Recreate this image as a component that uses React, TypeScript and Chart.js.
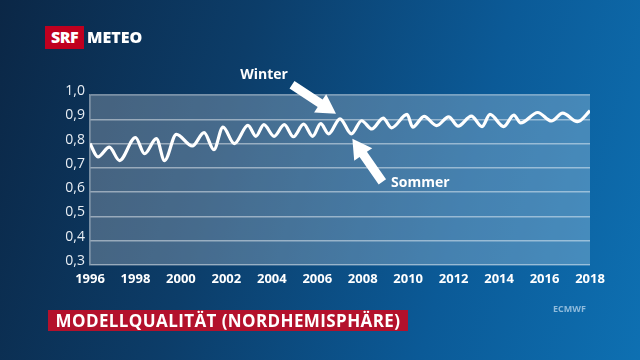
import React, { useEffect, useRef } from "react";
import { Chart, registerables } from "chart.js";

Chart.register(...registerables);

// Decimal years of the seasonal peaks/troughs and the model quality score
const times = [
  1996.0, 1996.35, 1996.85, 1997.3, 1998.0, 1998.4, 1998.92, 1999.28, 1999.8, 2000.5,
  2001.02, 2001.45, 2001.85, 2002.35, 2002.95, 2003.3, 2003.65, 2004.1, 2004.55, 2004.95,
  2005.4, 2005.8, 2006.15, 2006.5, 2007.0, 2007.5, 2007.95, 2008.4, 2008.9, 2009.27,
  2009.95, 2010.2, 2010.7, 2011.25, 2011.78, 2012.2, 2012.78, 2013.25, 2013.6, 2014.2,
  2014.65, 2014.95, 2015.7, 2016.3, 2016.8, 2017.45, 2018.0,
];
const scores = [
  0.8, 0.745, 0.785, 0.73, 0.825, 0.758, 0.82, 0.73, 0.838, 0.79,
  0.845, 0.775, 0.868, 0.8, 0.875, 0.83, 0.878, 0.83, 0.878, 0.828,
  0.88, 0.83, 0.882, 0.84, 0.902, 0.84, 0.894, 0.86, 0.905, 0.865,
  0.92, 0.868, 0.912, 0.874, 0.91, 0.872, 0.913, 0.87, 0.92, 0.87,
  0.917, 0.885, 0.928, 0.893, 0.925, 0.89, 0.935,
];
const xMin = 1996;
const xMax = 2018;
const xStep = 2;
const yMin = 0.3;
const yMax = 1.0;
const yStep = 0.1;
const winterPoint = { x: 2007.0, y: 0.902, label: "Winter" };
const sommerPoint = { x: 2007.5, y: 0.84, label: "Sommer" };
const titleText = "MODELLQUALITÄT (NORDHEMISPHÄRE)";
const sourceText = "ECMWF";

const FONT = "'Open Sans', 'Noto Sans', sans-serif";

function drawArrow(
  ctx: CanvasRenderingContext2D,
  tx: number, ty: number, hx: number, hy: number,
  shaftW: number, headLen: number, headW: number
) {
  const dx = hx - tx;
  const dy = hy - ty;
  const len = Math.hypot(dx, dy);
  const ux = dx / len;
  const uy = dy / len;
  const nx = -uy;
  const ny = ux;
  const bx = hx - ux * headLen;
  const by = hy - uy * headLen;
  ctx.beginPath();
  ctx.moveTo(tx + nx * shaftW / 2, ty + ny * shaftW / 2);
  ctx.lineTo(bx + nx * shaftW / 2, by + ny * shaftW / 2);
  ctx.lineTo(bx + nx * headW / 2, by + ny * headW / 2);
  ctx.lineTo(hx, hy);
  ctx.lineTo(bx - nx * headW / 2, by - ny * headW / 2);
  ctx.lineTo(bx - nx * shaftW / 2, by - ny * shaftW / 2);
  ctx.lineTo(tx - nx * shaftW / 2, ty - ny * shaftW / 2);
  ctx.closePath();
  ctx.fill();
}

const plotBgPlugin = {
  id: "plotBg",
  beforeDraw(chart: any) {
    const { ctx, chartArea } = chart;
    ctx.save();
    ctx.fillStyle = "rgba(255,255,255,0.24)";
    ctx.fillRect(chartArea.left, chartArea.top, chartArea.right - chartArea.left, chartArea.bottom - chartArea.top);
    ctx.restore();
  },
};

const annotationPlugin = {
  id: "seasonArrows",
  afterDatasetsDraw(chart: any) {
    const { ctx, scales } = chart;
    const xs = scales.x;
    const ys = scales.y;
    ctx.save();
    ctx.fillStyle = "#ffffff";
    // Winter
    const wx = xs.getPixelForValue(winterPoint.x) - 4;
    const wy = ys.getPixelForValue(winterPoint.y) - 5;
    drawArrow(ctx, wx - 44, wy - 29, wx, wy, 9, 19, 22);
    ctx.font = `bold 14px ${FONT}`;
    ctx.textAlign = "center";
    ctx.textBaseline = "middle";
    ctx.fillText(winterPoint.label, wx - 72, wy - 39);
    // Sommer
    const sx = xs.getPixelForValue(sommerPoint.x) + 1;
    const sy = ys.getPixelForValue(sommerPoint.y) + 5;
    drawArrow(ctx, sx + 30, sy + 43, sx, sy, 9, 19, 22);
    ctx.fillText(sommerPoint.label, sx + 68, sy + 44);
    ctx.restore();
  },
};

export default function App() {
  const ref = useRef<HTMLCanvasElement | null>(null);

  useEffect(() => {
    if (!ref.current) return;
    const gridColor = "rgba(255,255,255,0.45)";
    const chart = new Chart(ref.current, {
      type: "line",
      data: {
        datasets: [
          {
            data: times.map((t, i) => ({ x: t, y: scores[i] })),
            borderColor: "#ffffff",
            borderWidth: 3.2,
            pointRadius: 0,
            cubicInterpolationMode: "monotone",
            fill: false,
          },
        ],
      },
      options: {
        responsive: false,
        animation: false,
        events: [],
        layout: { padding: { left: 40, right: 50, top: 95, bottom: 65 } },
        plugins: { legend: { display: false }, tooltip: { enabled: false }, title: { display: false } },
        scales: {
          x: {
            type: "linear",
            min: xMin,
            max: xMax,
            grid: { display: false, drawTicks: false },
            border: { display: false },
            afterFit: (s: any) => { s.height = 30; },
            ticks: {
              stepSize: xStep,
              color: "#ffffff",
              padding: 6,
              maxRotation: 0,
              autoSkip: false,
              font: { family: FONT, size: 13, weight: "bold" },
              callback: (v: any) => String(v),
            },
          },
          y: {
            min: yMin,
            max: yMax,
            grid: { color: gridColor, lineWidth: 1.5, drawTicks: false },
            border: { display: true, color: gridColor, width: 1.5 },
            afterFit: (s: any) => { s.width = 50; },
            ticks: {
              stepSize: yStep,
              color: "#e8eef4",
              padding: 5,
              labelOffset: -4,
              font: { family: FONT, size: 14, weight: 500 },
              callback: (v: any) => Number(v).toFixed(1).replace(".", ","),
            },
          },
        },
      },
      plugins: [plotBgPlugin, annotationPlugin],
    } as any);
    return () => chart.destroy();
  }, []);

  return (
    <div
      style={{
        position: "fixed",
        left: 0,
        top: 0,
        width: 640,
        height: 360,
        overflow: "hidden",
        background: "linear-gradient(105deg, #0b2746 0%, #0c3d69 35%, #0b5a97 70%, #0e70b2 100%)",
        fontFamily: FONT,
      }}
    >
      <canvas ref={ref} width={640} height={360} style={{ position: "absolute", left: 0, top: 0 }} />
      <div
        style={{
          position: "absolute",
          left: 45,
          top: 26,
          width: 39,
          height: 23,
          background: "#c0001f",
          color: "#fff",
          fontWeight: 800,
          fontSize: 16,
          lineHeight: "23px",
          textAlign: "center",
          letterSpacing: -0.5,
        }}
      >
        SRF
      </div>
      <div
        style={{
          position: "absolute",
          left: 87,
          top: 26,
          height: 23,
          color: "#fff",
          fontWeight: 800,
          fontSize: 16,
          lineHeight: "23px",
        }}
      >
        METEO
      </div>
      <div
        style={{
          position: "absolute",
          left: 48,
          top: 310,
          width: 360,
          height: 21,
          background: "#b3112c",
          color: "#fff",
          fontWeight: 700,
          fontSize: 17,
          lineHeight: "21px",
          letterSpacing: 0.4,
          textAlign: "center",
          whiteSpace: "nowrap",
        }}
      >
        {titleText}
      </div>
      <div
        style={{
          position: "absolute",
          left: 553,
          top: 303,
          color: "#8fbbdc",
          fontWeight: 700,
          fontSize: 9,
          lineHeight: "12px",
        }}
      >
        {sourceText}
      </div>
    </div>
  );
}
